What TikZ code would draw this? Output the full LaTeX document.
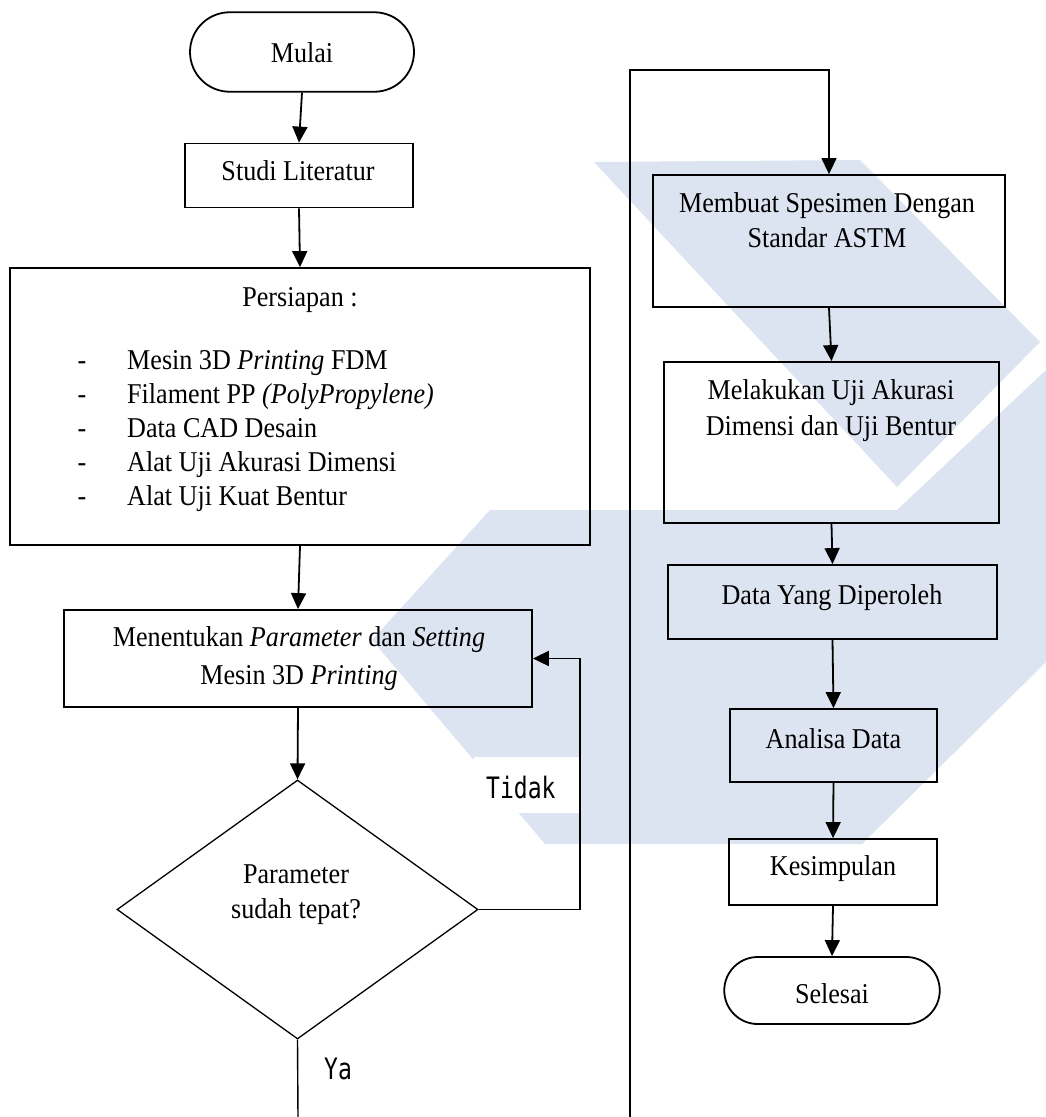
\documentclass[tikz,border=0pt]{standalone}
\usepackage{fontspec}
\setmainfont{Liberation Serif}[FakeStretch=0.91]
\newfontfamily\lblfont{DejaVu Sans Mono}[FakeStretch=0.78]
\usetikzlibrary{arrows.meta,shapes.geometric}
\definecolor{wm}{RGB}{221,228,241}
\tikzset{
  box/.style={draw=black, line width=1.8pt, rectangle, inner sep=0pt},
  term/.style={box, rounded corners=#1},
  dia/.style={draw=black, line width=1.3pt, diamond, inner sep=0pt},
  txt/.style={inner sep=0pt, anchor=base, font=\fontsize{28.7}{33}\selectfont},
  itm/.style={txt, anchor=base west},
  lbl/.style={inner sep=0pt, anchor=base west, font=\lblfont\fontsize{29.5}{30}\selectfont},
  arr/.style={draw=black, line width=1.8pt, -{Triangle[length=16pt,width=15pt]}},
  ln/.style={draw=black, line width=1.4pt},
}
\begin{document}
\begin{tikzpicture}[x=1pt,y=-1pt]
\useasboundingbox (0,0) rectangle (1046,1117);
\fill[white] (0,0) rectangle (1046,1117);
% watermark
\fill[wm] (594,162) -- (860,160) -- (1040,342) -- (897,487) -- cycle;
\fill[wm] (490,510) -- (372,640) -- (545,844) -- (862,844) -- (1046,662) -- (1046,370) -- (897,510) -- cycle;
% label background
\node[fill=white, inner sep=0pt, minimum width=105pt, minimum height=56pt] (tidakbox) at (526,785) {};

% left column
\node[term=39.75pt, minimum width=224pt, minimum height=79.5pt] (mulai) at (302,52) {};
\node[txt] (mulaiT) at (302,62) {Mulai};

\node[box, minimum width=228pt, minimum height=64pt] (studi) at (299,175.5) {};
\node[txt] (studiT) at (298,180.7) {Studi Literatur};

\node[box, minimum width=580pt, minimum height=277pt] (persiapan) at (300,406.5) {};
\node[txt] (persT) at (300,306) {Persiapan :};
\node[txt] (d1) at (82,369) {-};
\node[itm] (i1) at (127,369) {Mesin 3D \textit{Printing} FDM};
\node[txt] (d2) at (82,403) {-};
\node[itm] (i2) at (127,403) {Filament PP \textit{(PolyPropylene)}};
\node[txt] (d3) at (82,437) {-};
\node[itm] (i3) at (127,437) {Data CAD Desain};
\node[txt] (d4) at (82,471) {-};
\node[itm] (i4) at (127,471) {Alat Uji Akurasi Dimensi};
\node[txt] (d5) at (82,505) {-};
\node[itm] (i5) at (127,505) {Alat Uji Kuat Bentur};

\node[box, minimum width=468pt, minimum height=97pt] (menentukan) at (298,658.5) {};
\node[txt] (menT1) at (299,646) {Menentukan \textit{Parameter} dan \textit{Setting}};
\node[txt] (menT2) at (299,684) {Mesin 3D \textit{Printing}};

\node[dia, minimum width=361pt, minimum height=259pt] (diamond) at (297.5,909.5) {};
\node[txt] (diaT1) at (296,883) {Parameter};
\node[txt] (diaT2) at (296,918) {sudah tepat?};

\node[lbl] (tidak) at (486,798) {Tidak};
\node[lbl] (ya) at (324,1079) {Ya};

% right column
\node[box, minimum width=352.5pt, minimum height=132pt] (membuat) at (829,241) {};
\node[txt] (memT1) at (827,212) {Membuat Spesimen Dengan};
\node[txt] (memT2) at (827,247.5) {Standar ASTM};

\node[box, minimum width=335pt, minimum height=161pt] (melakukan) at (831.5,442.5) {};
\node[txt] (melT1) at (831,399) {Melakukan Uji Akurasi};
\node[txt] (melT2) at (831,435) {Dimensi dan Uji Bentur};

\node[box, minimum width=329pt, minimum height=74pt] (data) at (832.5,602) {};
\node[txt] (dataT) at (832,604) {Data Yang Diperoleh};

\node[box, minimum width=207pt, minimum height=73pt] (analisa) at (833.5,745.5) {};
\node[txt] (anaT) at (833.5,748) {Analisa Data};

\node[box, minimum width=208pt, minimum height=66pt] (kesimpulan) at (833,872) {};
\node[txt] (kesT) at (833,875) {Kesimpulan};

\node[term=33.5pt, minimum width=215.5pt, minimum height=67pt] (selesai) at (832,990.5) {};
\node[txt] (selT) at (832,1003) {Selesai};

% free ends
\coordinate (yaend) at (298,1117);
\coordinate (loopc) at (580,909.5);
\coordinate (cbot) at (630,1117);
\coordinate (ctop) at (630,70);

% connectors
\draw[arr] (mulai.south) -- (studi.north);
\draw[arr] (studi.south) -- (persiapan.north);
\draw[arr] (persiapan.south) -- (menentukan.north);
\draw[arr] (menentukan.south) -- (diamond.north);
\draw[arr] (diamond.east) -- (loopc) |- (menentukan.east);
\draw[ln] (diamond.south) -- (yaend);
\draw[arr, line width=1.5pt] (cbot) -- (ctop) -| (membuat.north);
\draw[arr] (membuat.south) -- (melakukan.north);
\draw[arr] (melakukan.south) -- (data.north);
\draw[arr] (data.south) -- (analisa.north);
\draw[arr] (analisa.south) -- (kesimpulan.north);
\draw[arr] (kesimpulan.south) -- (selesai.north);
\end{tikzpicture}
\end{document}
